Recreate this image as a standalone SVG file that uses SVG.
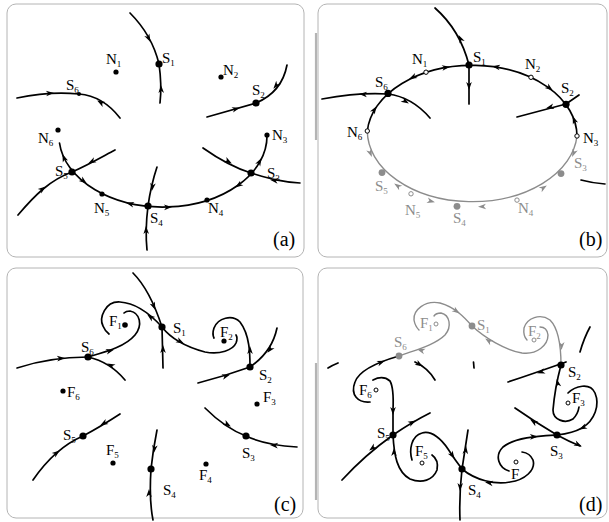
<svg xmlns="http://www.w3.org/2000/svg" width="609" height="522" viewBox="0 0 609 522" font-family="'Liberation Serif', 'Times New Roman', serif">
<style>
.frame{fill:none;stroke:#b4b4b4;stroke-width:1}
.bar{stroke:#b4b4b4;stroke-width:2.2}
.c{fill:none;stroke:#000;stroke-width:1.7;stroke-linecap:round}
.g{fill:none;stroke:#8c8c8c;stroke-width:1.4;stroke-linecap:round}
text{font-family:'Liberation Serif','Times New Roman',serif}
.t{font-size:15px;fill:#000}
.tg{font-size:15px;fill:#8c8c8c}
.p{font-size:20px;fill:#000}
.s{font-size:9px}
.big{fill:#000}
.bigg{fill:#8c8c8c}
.sm{fill:#000}
.o{fill:#fff;stroke:#000;stroke-width:1}
.og{fill:#fff;stroke:#8c8c8c;stroke-width:1}
</style>
<defs>
<path id="ah" d="M1,0 L-7,-2.8 L-4.8,0 L-7,2.8 Z"/>
</defs>
<rect width="609" height="522" fill="#fff"/>
<g id="frames">
<rect class="frame" x="7" y="4" width="297" height="253" rx="9"/>
<rect class="frame" x="318" y="4" width="289" height="253" rx="9"/>
<rect class="frame" x="7" y="268" width="296" height="250" rx="9"/>
<rect class="frame" x="318" y="268" width="289" height="250" rx="9"/>
<line class="bar" x1="316" y1="33" x2="316" y2="140"/>
<line class="bar" x1="316" y1="363" x2="316" y2="500"/>
</g>

<!-- ===== Panel (a) ===== -->
<g id="connectors-a">
<path class="c" d="M130,13 Q152,35 159,64"/>
<path class="c" d="M159,64 Q162,85 160,103"/>
<path class="c" d="M17,98 Q50,91 79,94"/>
<path class="c" d="M79,94 Q103,96 120,118"/>
<path class="c" d="M287,65 Q282,92 256,103"/>
<path class="c" d="M207,117 L256,103"/>
<path class="c" d="M203,148 C220,160 235,168 251,173 C268,178 280,182 300,183"/>
<path class="c" d="M59.5,143 A104 71 0 0 0 267,136"/>
<path class="c" d="M18,215 C35,195 50,180 72,172 C88,165 100,158 115,150"/>
<path class="c" d="M157,167 Q151,185 148,206"/>
<path class="c" d="M148,206 Q145,230 147,250"/>
<use href="#ah" transform="translate(150,41) rotate(63)"/>
<use href="#ah" transform="translate(161,86) rotate(-92)"/>
<use href="#ah" transform="translate(53,93) rotate(-4)"/>
<use href="#ah" transform="translate(98,101) rotate(210)"/>
<use href="#ah" transform="translate(274,88) rotate(129)"/>
<use href="#ah" transform="translate(239,108) rotate(-16)"/>
<use href="#ah" transform="translate(231,163) rotate(30)"/>
<use href="#ah" transform="translate(271,180) rotate(188)"/>
<use href="#ah" transform="translate(62.8,155) rotate(-112)"/>
<use href="#ah" transform="translate(86,183) rotate(38)"/>
<use href="#ah" transform="translate(127,203) rotate(194)"/>
<use href="#ah" transform="translate(171,207) rotate(-3)"/>
<use href="#ah" transform="translate(236,187) rotate(145)"/>
<use href="#ah" transform="translate(261,159) rotate(-62)"/>
<use href="#ah" transform="translate(45,187) rotate(-38)"/>
<use href="#ah" transform="translate(89,163) rotate(153)"/>
<use href="#ah" transform="translate(152,190) rotate(98)"/>
<use href="#ah" transform="translate(146,227) rotate(-92)"/>
</g>
<g id="a-N1"><circle class="sm" cx="116" cy="72" r="2.6"/><text class="t" x="106" y="64">N<tspan class="s" dy="3">1</tspan></text></g>
<g id="a-S1"><circle class="big" cx="159" cy="64" r="3.6"/><text class="t" x="162" y="63">S<tspan class="s" dy="3">1</tspan></text></g>
<g id="a-N2"><circle class="sm" cx="221" cy="77" r="2.6"/><text class="t" x="223" y="75">N<tspan class="s" dy="3">2</tspan></text></g>
<g id="a-S2"><circle class="big" cx="256" cy="103" r="3.6"/><text class="t" x="252" y="95">S<tspan class="s" dy="3">2</tspan></text></g>
<g id="a-S6"><circle class="sm" cx="79" cy="94" r="2"/><text class="t" x="66" y="90">S<tspan class="s" dy="3">6</tspan></text></g>
<g id="a-N6"><circle class="sm" cx="58" cy="130" r="2.6"/><text class="t" x="38" y="143">N<tspan class="s" dy="3">6</tspan></text></g>
<g id="a-N3"><circle class="sm" cx="267" cy="135" r="2.6"/><text class="t" x="272" y="140">N<tspan class="s" dy="3">3</tspan></text></g>
<g id="a-S5"><circle class="big" cx="72" cy="172" r="3.6"/><text class="t" x="55" y="176">S<tspan class="s" dy="3">5</tspan></text></g>
<g id="a-S3"><circle class="big" cx="251" cy="173" r="3.6"/><text class="t" x="267" y="178">S<tspan class="s" dy="3">3</tspan></text></g>
<g id="a-N5"><circle class="sm" cx="102" cy="194" r="2.6"/><text class="t" x="94" y="213">N<tspan class="s" dy="3">5</tspan></text></g>
<g id="a-S4"><circle class="big" cx="148" cy="206" r="3.6"/><text class="t" x="150" y="223">S<tspan class="s" dy="3">4</tspan></text></g>
<g id="a-N4"><circle class="sm" cx="207" cy="200" r="2.6"/><text class="t" x="208" y="213">N<tspan class="s" dy="3">4</tspan></text></g>
<text class="p" x="273" y="246">(a)</text>

<!-- ===== Panel (b) ===== -->
<g id="connectors-b">
<path class="g" d="M577,136 A105 71 0 0 1 367.3,131"/>
<path class="c" d="M367.3,131 A105 71 0 0 1 577,136"/>
<path class="c" d="M435,8 Q460,30 469,65"/>
<path class="c" d="M469,65 L469,104"/>
<path class="c" d="M322,99 Q360,92 388,94"/>
<path class="c" d="M388,94 Q412,97 430,118"/>
<path class="c" d="M566,104 L579,95"/>
<path class="c" d="M517,117 L566,104"/>
<path class="c" d="M581,180 Q592,183 605,184"/>
<use href="#ah" transform="translate(459,36) rotate(243)"/>
<use href="#ah" transform="translate(469,89) rotate(90)"/>
<use href="#ah" transform="translate(360,94) rotate(184)"/>
<use href="#ah" transform="translate(408,103) rotate(32)"/>
<use href="#ah" transform="translate(547,108) rotate(165)"/>
<use href="#ah" transform="translate(449,66.8) rotate(-9)"/>
<use href="#ah" transform="translate(410,78.5) rotate(154)"/>
<use href="#ah" transform="translate(493,66.5) rotate(188)"/>
<use href="#ah" transform="translate(552,90) rotate(38)"/>
<use href="#ah" transform="translate(376,107) rotate(-58)"/>
<use href="#ah" transform="translate(573,117) rotate(-111)"/>
<g fill="#8c8c8c">
<use href="#ah" transform="translate(371.5,156) rotate(68)"/>
<use href="#ah" transform="translate(572.5,156) rotate(112)"/>
<use href="#ah" transform="translate(395,184) rotate(215)"/>
<use href="#ah" transform="translate(434,202) rotate(15)"/>
<use href="#ah" transform="translate(479,206.8) rotate(177)"/>
<use href="#ah" transform="translate(546,186) rotate(-33)"/>
</g>
</g>
<g id="b-N1"><circle class="o" cx="426" cy="72.2" r="2.2"/><text class="t" x="412" y="64">N<tspan class="s" dy="3">1</tspan></text></g>
<g id="b-S1"><circle class="big" cx="469" cy="65" r="3.6"/><text class="t" x="473" y="62">S<tspan class="s" dy="3">1</tspan></text></g>
<g id="b-N2"><circle class="o" cx="531" cy="77.3" r="2.2"/><text class="t" x="525" y="69">N<tspan class="s" dy="3">2</tspan></text></g>
<g id="b-S2"><circle class="big" cx="566" cy="104.3" r="3.6"/><text class="t" x="561" y="93">S<tspan class="s" dy="3">2</tspan></text></g>
<g id="b-S6"><circle class="big" cx="388" cy="93.4" r="3.6"/><text class="t" x="375" y="87">S<tspan class="s" dy="3">6</tspan></text></g>
<g id="b-N6"><circle class="o" cx="367.3" cy="131" r="2.2"/><text class="t" x="347" y="137">N<tspan class="s" dy="3">6</tspan></text></g>
<g id="b-N3"><circle class="o" cx="577" cy="136" r="2.2"/><text class="t" x="583" y="143">N<tspan class="s" dy="3">3</tspan></text></g>
<g id="b-S3"><circle class="bigg" cx="561" cy="173.6" r="3.4"/><text class="tg" x="574" y="168">S<tspan class="s" dy="3">3</tspan></text></g>
<g id="b-S5"><circle class="bigg" cx="382" cy="172.6" r="3.4"/><text class="tg" x="375" y="191">S<tspan class="s" dy="3">5</tspan></text></g>
<g id="b-N5"><circle class="og" cx="411" cy="193.8" r="2.2"/><text class="tg" x="405" y="215">N<tspan class="s" dy="3">5</tspan></text></g>
<g id="b-S4"><circle class="bigg" cx="457" cy="206.3" r="3.4"/><text class="tg" x="453" y="223">S<tspan class="s" dy="3">4</tspan></text></g>
<g id="b-N4"><circle class="og" cx="517" cy="200.1" r="2.2"/><text class="tg" x="518" y="213">N<tspan class="s" dy="3">4</tspan></text></g>
<text class="p" x="579" y="246">(b)</text>

<!-- ===== Panel (c) ===== -->
<g id="connectors-c">
<path class="c" d="M133,273 Q150,290 162,327"/>
<path class="c" d="M162,327 L163,368"/>
<path class="c" d="M162,327 C152,316 138,303 120,302 C105,301 99,318 103,326 Q105,331 109,334"/>
<path class="c" d="M88,357 C105,352 125,347 135,335 C143,325 140,313 130,311 Q126,311 124,313"/>
<path class="c" d="M17,368 Q50,357 88,357"/>
<path class="c" d="M88,357 Q110,362 125,380"/>
<path class="c" d="M162,327 C172,340 190,348 205,352 C220,355 233,350 236,343 Q238,338 236,335"/>
<path class="c" d="M250,367 C250,355 250,335 240,322 C232,314 218,318 214,328 Q212,334 214,338"/>
<path class="c" d="M277,328 Q272,352 250,367"/>
<path class="c" d="M198,383 Q225,376 250,367"/>
<path class="c" d="M33,480 Q55,448 83,436"/>
<path class="c" d="M83,436 Q100,427 120,414"/>
<path class="c" d="M205,408 Q225,428 246,436"/>
<path class="c" d="M246,436 Q265,445 297,447"/>
<path class="c" d="M157,430 Q153,450 151,469"/>
<path class="c" d="M151,469 Q149,500 153,520"/>
<use href="#ah" transform="translate(155,309) rotate(67)"/>
<use href="#ah" transform="translate(163,346) rotate(-90)"/>
<use href="#ah" transform="translate(148,315) rotate(218)"/>
<use href="#ah" transform="translate(113,350) rotate(-15)"/>
<use href="#ah" transform="translate(64,358) rotate(-5)"/>
<use href="#ah" transform="translate(108,364) rotate(205)"/>
<use href="#ah" transform="translate(183,343) rotate(28)"/>
<use href="#ah" transform="translate(250,347) rotate(-90)"/>
<use href="#ah" transform="translate(268,352) rotate(128)"/>
<use href="#ah" transform="translate(229,375) rotate(-17)"/>
<use href="#ah" transform="translate(59,451) rotate(-38)"/>
<use href="#ah" transform="translate(101,425) rotate(150)"/>
<use href="#ah" transform="translate(230,426) rotate(32)"/>
<use href="#ah" transform="translate(271,445) rotate(185)"/>
<use href="#ah" transform="translate(154,452) rotate(97)"/>
<use href="#ah" transform="translate(149,490) rotate(-90)"/>
</g>
<g id="c-F1"><text class="t" x="109" y="326">F<tspan class="s" dy="3">1</tspan></text><circle class="sm" cx="125" cy="325" r="2.8"/></g>
<g id="c-S1"><circle class="big" cx="162" cy="327" r="3.6"/><text class="t" x="173" y="333">S<tspan class="s" dy="3">1</tspan></text></g>
<g id="c-F2"><text class="t" x="220" y="337">F<tspan class="s" dy="3">2</tspan></text><circle class="sm" cx="224" cy="341" r="2.6"/></g>
<g id="c-S2"><circle class="big" cx="250" cy="367" r="3.6"/><text class="t" x="259" y="380">S<tspan class="s" dy="3">2</tspan></text></g>
<g id="c-S6"><circle class="big" cx="88" cy="357" r="3.6"/><text class="t" x="81" y="352">S<tspan class="s" dy="3">6</tspan></text></g>
<g id="c-F6"><circle class="sm" cx="63" cy="391" r="2.6"/><text class="t" x="67" y="397">F<tspan class="s" dy="3">6</tspan></text></g>
<g id="c-F3"><circle class="sm" cx="257" cy="404" r="2.6"/><text class="t" x="263" y="402">F<tspan class="s" dy="3">3</tspan></text></g>
<g id="c-S5"><circle class="big" cx="83" cy="436" r="3.6"/><text class="t" x="63" y="440">S<tspan class="s" dy="3">5</tspan></text></g>
<g id="c-S3"><circle class="big" cx="246" cy="436" r="3.6"/><text class="t" x="242" y="458">S<tspan class="s" dy="3">3</tspan></text></g>
<g id="c-F5"><circle class="sm" cx="113" cy="463" r="2.6"/><text class="t" x="106" y="455">F<tspan class="s" dy="3">5</tspan></text></g>
<g id="c-F4"><circle class="sm" cx="206" cy="464" r="2.6"/><text class="t" x="199" y="480">F<tspan class="s" dy="3">4</tspan></text></g>
<g id="c-S4"><circle class="big" cx="151" cy="469" r="3.6"/><text class="t" x="163" y="495">S<tspan class="s" dy="3">4</tspan></text></g>
<text class="p" x="274" y="511">(c)</text>

<!-- ===== Panel (d) ===== -->
<g id="connectors-d">
<path class="g" d="M472,326 C465,318 455,307 440,303 C425,300 413,310 414,320 Q415,326 419,330"/>
<path class="g" d="M399,356 C415,350 435,345 445,335 C452,327 450,315 441,313 Q436,313 434,316"/>
<path class="g" d="M472,326 C485,338 505,350 522,353 C537,355 548,345 548,335 Q547,327 540,327"/>
<path class="g" d="M561,365 C561,350 560,330 550,320 C540,313 527,318 524,328 Q523,336 527,340"/>
<g fill="#8c8c8c">
<use href="#ah" transform="translate(459,313) rotate(35)"/>
<use href="#ah" transform="translate(418,349.5) rotate(197)"/>
<use href="#ah" transform="translate(486,339) rotate(215)"/>
<use href="#ah" transform="translate(561.5,349) rotate(92)"/>
</g>
<path class="c" d="M328,368 Q333,365 338,363"/>
<path class="c" d="M415,362 Q428,368 435,380"/>
<path class="c" d="M473.5,362 L474,368"/>
<path class="c" d="M580,352 Q584,338 590,327"/>
<path class="c" d="M508,382 Q535,373 566,362"/>
<path class="c" d="M561,365 C557,380 554,398 553,410 C553,420 565,424 573,419 Q578,414 579,407"/>
<path class="c" d="M568,393 C575,386 590,382 595,393 C600,405 595,420 582,428 C575,432 565,434 557,435"/>
<path class="c" d="M515,408 Q535,422 557,435 Q568,441 580,446"/>
<path class="c" d="M557,435 C540,436 515,437 503,447 C494,456 499,468 509,471"/>
<path class="c" d="M462,469 C475,480 495,485 510,482 C525,480 536,470 533,460 Q530,453 522,452"/>
<path class="c" d="M468,430 Q465,450 462,469 Q459,495 460,520"/>
<path class="c" d="M412,460 C409,450 411,436 422,433 C432,430 442,440 448,449 Q455,460 462,469"/>
<path class="c" d="M393,435 C394,455 397,472 410,479 C422,484 433,480 437,470 Q439,460 432,455"/>
<path class="c" d="M342,480 Q365,455 393,435 Q412,422 430,413"/>
<path class="c" d="M393,435 L393,410 Q394,388 390,381 Q383,375 373,380"/>
<path class="c" d="M399,356 C385,360 360,368 355,382 C350,395 358,403 370,402"/>
<use href="#ah" transform="translate(422,366) rotate(32)"/>
<use href="#ah" transform="translate(538,373) rotate(162)"/>
<use href="#ah" transform="translate(557,380) rotate(-102)"/>
<use href="#ah" transform="translate(580,429) rotate(155)"/>
<use href="#ah" transform="translate(531,420) rotate(213)"/>
<use href="#ah" transform="translate(581,446) rotate(25)"/>
<use href="#ah" transform="translate(537,436.5) rotate(-3)"/>
<use href="#ah" transform="translate(486,482.5) rotate(188)"/>
<use href="#ah" transform="translate(466,447) rotate(-84)"/>
<use href="#ah" transform="translate(460,490) rotate(92)"/>
<use href="#ah" transform="translate(454,458) rotate(57)"/>
<use href="#ah" transform="translate(394,449) rotate(-90)"/>
<use href="#ah" transform="translate(370,450) rotate(142)"/>
<use href="#ah" transform="translate(415,421) rotate(-28)"/>
<use href="#ah" transform="translate(393,414) rotate(90)"/>
<use href="#ah" transform="translate(384,361) rotate(-22)"/>
</g>
<g id="d-F1"><text class="tg" x="420" y="328">F<tspan class="s" dy="3">1</tspan></text><circle class="og" cx="436" cy="324" r="2"/></g>
<g id="d-S1"><circle class="bigg" cx="472" cy="326" r="3.4"/><text class="tg" x="477" y="330">S<tspan class="s" dy="3">1</tspan></text></g>
<g id="d-F2"><text class="tg" x="528" y="336">F<tspan class="s" dy="3">2</tspan></text><circle class="og" cx="534" cy="340" r="2"/></g>
<g id="d-S6"><circle class="bigg" cx="399" cy="356" r="3.4"/><text class="tg" x="394" y="347">S<tspan class="s" dy="3">6</tspan></text></g>
<g id="d-S2"><circle class="big" cx="561" cy="365" r="3.6"/><text class="t" x="568" y="377">S<tspan class="s" dy="3">2</tspan></text></g>
<g id="d-F6"><text class="t" x="359" y="395">F<tspan class="s" dy="3">6</tspan></text><circle class="o" cx="376" cy="390" r="2"/></g>
<g id="d-F3"><circle class="o" cx="568" cy="403" r="2"/><text class="t" x="572" y="403">F<tspan class="s" dy="3">3</tspan></text></g>
<g id="d-S5"><circle class="big" cx="393" cy="435" r="3.6"/><text class="t" x="377" y="438">S<tspan class="s" dy="3">5</tspan></text></g>
<g id="d-S3"><circle class="big" cx="557" cy="435" r="3.6"/><text class="t" x="550" y="456">S<tspan class="s" dy="3">3</tspan></text></g>
<g id="d-F5"><text class="t" x="415" y="456">F<tspan class="s" dy="3">5</tspan></text><circle class="o" cx="422" cy="463" r="2"/></g>
<g id="d-F4"><circle class="o" cx="516" cy="462" r="2"/><text class="t" x="511" y="479">F</text></g>
<g id="d-S4"><circle class="big" cx="462" cy="469" r="3.6"/><text class="t" x="468" y="495">S<tspan class="s" dy="3">4</tspan></text></g>
<text class="p" x="579" y="511">(d)</text>
</svg>
